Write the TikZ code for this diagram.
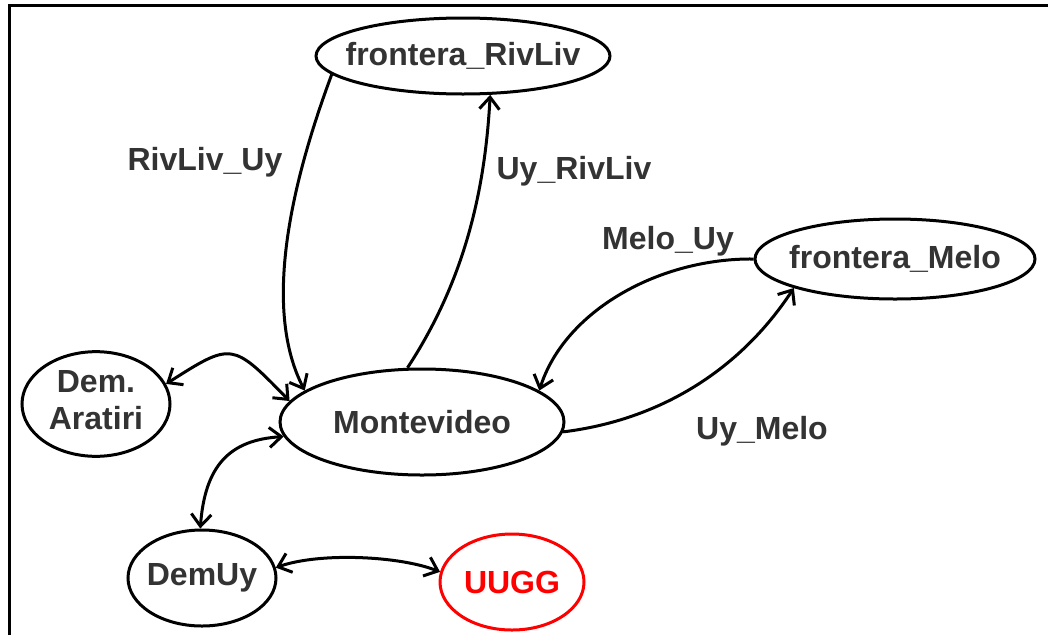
\documentclass[tikz,border=0pt]{standalone}
\usepackage{fontspec}
\setmainfont{Liberation Sans}
\usetikzlibrary{shapes.geometric,arrows.meta}
\definecolor{txt}{HTML}{333333}
\definecolor{redline}{HTML}{FF0000}
\begin{document}
\begin{tikzpicture}[x=1pt,y=-1pt,
  state/.style={ellipse,draw,line width=3pt,inner sep=0pt,text=txt,
    font=\fontsize{32}{37}\selectfont\bfseries},
  conn/.style={line width=3pt,>={Straight Barb[length=12pt,width=20pt]}},
  lbl/.style={text=txt,inner sep=0pt,font=\fontsize{32}{36}\selectfont\bfseries}]
\useasboundingbox (0,0) rectangle (1048,635);
% frame
\draw[line width=3pt] (9,635) -- (9,5) -- (1048,5);
% nodes
\node[state,minimum width=294,minimum height=76] (riv) at (463,56) {\makebox[0pt]{frontera\_RivLiv}};
\node[state,minimum width=280,minimum height=80] (melo) at (895,259) {\makebox[0pt]{frontera\_Melo}};
\node[state,minimum width=284,minimum height=106] (mvd) at (422,422) {\makebox[0pt]{Montevideo}};
\node[state,minimum width=148,minimum height=98] (arat) at (96,404) {\makebox[0pt]{\begin{tabular}{@{}c@{}}Dem.\\Aratiri\end{tabular}}};
\node[state,minimum width=148,minimum height=96] (demuy) at (202,578) {\makebox[0pt]{DemUy}};
\node[state,draw=redline,text=redline,minimum width=144,minimum height=96] (uugg) at (512,582) {\makebox[0pt]{UUGG}};
% connectors
\draw[conn,->] (riv.188) .. controls (300,160) and (258,300) .. (mvd.165);
\draw[conn,->] (mvd.105) .. controls (465,280) and (485,190) .. (riv.305);
\draw[conn,->] (melo.180) .. controls (660,258) and (565,310) .. (mvd.15);
\draw[conn,->] (mvd.356) .. controls (660,420) and (740,370) .. (melo.196);
\draw[conn,<->] (arat.16) .. controls (232,342) .. (mvd.171);
\draw[conn,<->] (demuy.92) .. controls (205,465) and (230,440) .. (mvd.186);
\draw[conn,<->] (demuy.8) .. controls (320,552) and (400,556) .. (uugg.172);
% labels
\node[lbl] (l1) at (205,162) {RivLiv\_Uy};
\node[lbl] (l2) at (574,171) {Uy\_RivLiv};
\node[lbl] (l3) at (668,241) {Melo\_Uy};
\node[lbl] (l4) at (762,431) {Uy\_Melo};
\end{tikzpicture}
\end{document}
